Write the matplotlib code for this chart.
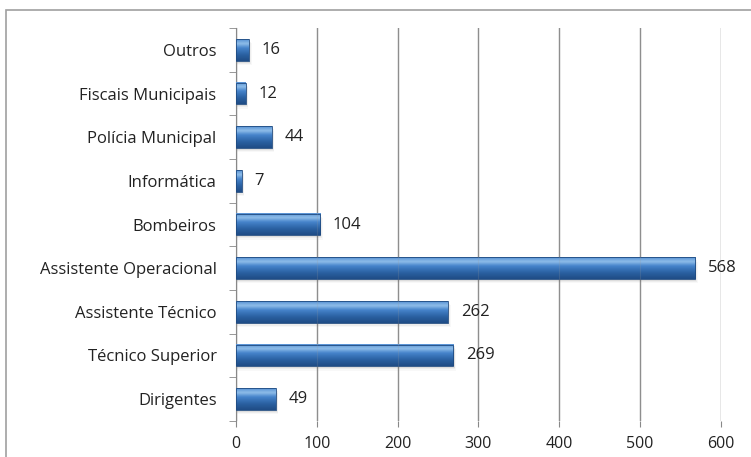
import matplotlib.pyplot as plt
import numpy as np
from matplotlib.patches import Rectangle
from matplotlib.colors import LinearSegmentedColormap

# Categories, bottom to top as they appear on the chart
categorias = ['Dirigentes', 'Técnico Superior', 'Assistente Técnico',
              'Assistente Operacional', 'Bombeiros', 'Informática',
              'Polícia Municipal', 'Fiscais Municipais', 'Outros']
valores = [49, 269, 262, 568, 104, 7, 44, 12, 16]
xticks = [0, 100, 200, 300, 400, 500, 600]

plt.rcParams['font.family'] = ['Open Sans', 'DejaVu Sans']

fig = plt.figure(figsize=(7.51, 4.57), dpi=100)
ax = fig.add_axes([0.3142, 0.0788, 0.6458, 0.8599])

# outer chart border (runs off the right and bottom edges)
fig.patches.append(Rectangle((6 / 751, -0.1), 1.1, 1 - 10 / 457 + 0.1,
                             transform=fig.transFigure, fill=False,
                             edgecolor='#a0a0a0', lw=1.2))

# gradient for the cylinder look (bottom -> top)
cmap = LinearSegmentedColormap.from_list(
    'barra', [(0.0, '#1f4c85'), (0.3, '#2b62a3'), (0.6, '#4684cb'),
              (0.8, '#90bee9'), (1.0, '#5590d3')])
grad = np.linspace(0, 1, 64).reshape(-1, 1)

h = 0.5
for i, v in enumerate(valores):
    # soft shadow below the bar
    for k, a in enumerate([0.10, 0.07, 0.04]):
        ax.add_patch(Rectangle((0, i - h / 2 - 0.04 - k * 0.03), v + 1.5 + k, h,
                               facecolor='#606060', alpha=a, lw=0, zorder=2))
    ax.imshow(grad, cmap=cmap, aspect='auto', extent=(0, v, i - h / 2, i + h / 2),
              origin='lower', zorder=3, interpolation='bicubic')
    ax.add_patch(Rectangle((0, i - h / 2), v, h, fill=False,
                           edgecolor='#1f4a80', lw=0.6, zorder=4))
    ax.text(v + 16, i, str(v), va='center', ha='left', fontsize=12,
            color='#222222', zorder=5)

ax.set_xlim(0, 600)
ax.set_ylim(-0.5, len(categorias) - 0.5)
ax.set_xticks(xticks)
ax.set_xticklabels([str(t) for t in xticks], fontsize=11.5, color='#222222')
ax.set_yticks(range(len(categorias)))
ax.set_yticklabels(categorias, fontsize=12, color='#222222')
ax.set_yticks(np.arange(-0.5, len(categorias), 1), minor=True)

ax.tick_params(axis='y', which='major', length=0, pad=14)
ax.tick_params(axis='y', which='minor', length=5, color='#888888', direction='out')
ax.tick_params(axis='x', length=4, color='#888888', pad=7)

ax.grid(axis='x', color='#8c8c8c', lw=1, zorder=1)
# faint gridlines showing through the bars
for t in xticks[1:]:
    ax.axvline(t, color='#9a9a9a', lw=0.8, alpha=0.2, zorder=4.5)
for s in ['top', 'right', 'bottom']:
    ax.spines[s].set_visible(False)
ax.spines['left'].set_color('#888888')
ax.set_axisbelow(True)

fig.savefig('out.png', dpi=100)
